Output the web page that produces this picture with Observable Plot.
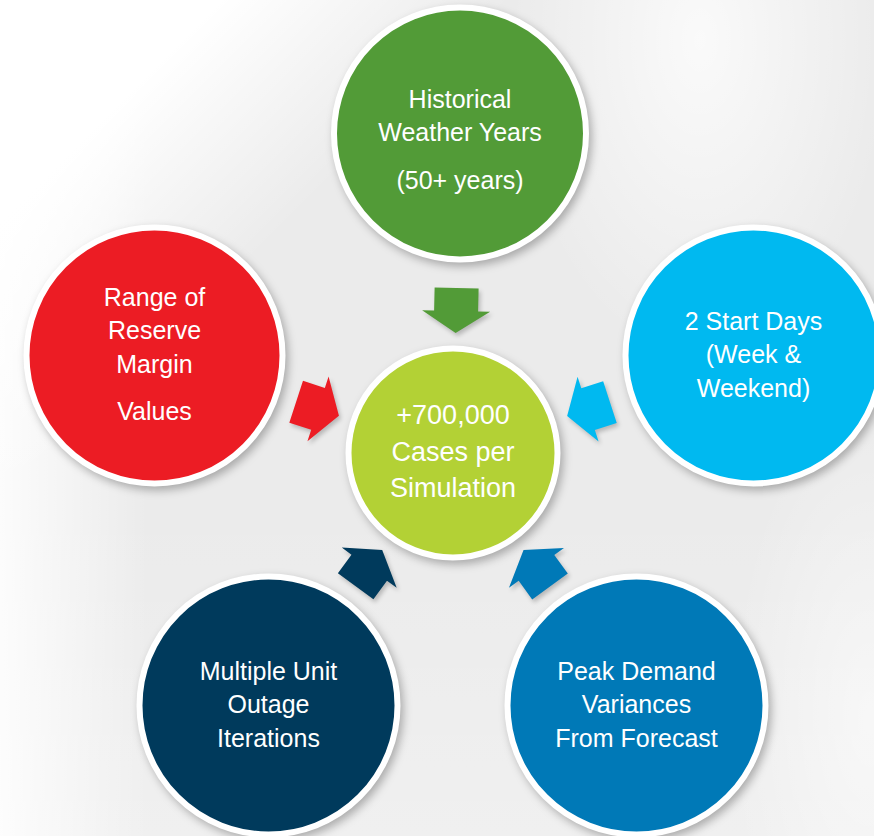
<!DOCTYPE html>
<html>
<head>
<meta charset="utf-8">
<script src="https://cdn.jsdelivr.net/npm/d3@7"></script>
<script src="https://cdn.jsdelivr.net/npm/@observablehq/plot@0.6"></script>
<style>
  html, body { margin: 0; padding: 0; }
  body {
    width: 874px; height: 836px; overflow: hidden;
    background-color: #ebebeb;
    background-image:
      linear-gradient(135deg, #ffffff 0%, #ffffff 13%, rgba(255,255,255,0) 30%),
      linear-gradient(to right, rgba(255,255,255,0.85) 0%, rgba(255,255,255,0) 17%),
      radial-gradient(ellipse 190px 320px at 700px 40px, rgba(255,255,255,0.75), rgba(255,255,255,0)),
      radial-gradient(ellipse 140px 320px at 870px 720px, rgba(255,255,255,0.55), rgba(255,255,255,0)),
      linear-gradient(to bottom, rgba(255,255,255,0) 60%, rgba(255,255,255,0.25) 100%);
  }
  #chart svg { display: block; }
  #chart g[aria-label="dot"] circle { filter: drop-shadow(3px 4px 4px rgba(0,0,0,0.28)); }
  #chart g[aria-label="line"] path { filter: drop-shadow(2px 3px 2px rgba(0,0,0,0.22)); }
</style>
</head>
<body>
<div id="chart"></div>
<script>
// ---- data ----
const nodeIds    = ["hub", "weather", "start", "demand", "outage", "reserve"];
const nodeLabels = [
  ["+700,000", "Cases per", "Simulation"],
  ["Historical", "Weather Years"],
  ["2 Start Days", "(Week &", "Weekend)"],
  ["Peak Demand", "Variances", "From Forecast"],
  ["Multiple Unit", "Outage", "Iterations"],
  ["Range of", "Reserve", "Margin"]
];
const nodeNotes  = [[], ["(50+ years)"], [], [], [], ["Values"]];
const nodeColors = ["#b3d135", "#529b37", "#00b9f0", "#0079b7", "#003a5c", "#ec1c24"];

// ---- layout (diagram geometry) ----
const nodeX      = [452.5, 459.5, 753, 636, 268, 154];
const nodeY      = [452.5, 133, 355, 705, 705, 355];
const nodeR      = [107.5, 129, 131, 132, 132, 131];
const fontSizes  = [27, 25, 25, 25, 25, 25];
const textShift  = [0, 7, 0, 0, 0, 0];

const W = 874, H = 836;

const nodes = nodeIds.map((id, i) => ({
  id, x: nodeX[i], y: nodeY[i], r: nodeR[i] - 3, color: nodeColors[i]
}));

// text rows
const textRows = [];
nodeIds.forEach((id, i) => {
  const fs = fontSizes[i];
  const lh = fs * 1.34;
  const rows = nodeLabels[i].map(t => ({t, note: false}))
    .concat(nodeNotes[i].map(t => ({t, note: true})));
  let off = 0, offs = [];
  rows.forEach((row, k) => {
    if (k > 0) off += lh + (row.note ? 14 : 0);
    offs.push(off);
  });
  const c = (offs[0] + offs[offs.length - 1]) / 2;
  rows.forEach((row, k) => {
    const baseline = nodeY[i] + 7.5 + (offs[k] - c) + textShift[i];
    textRows.push({x: nodeX[i], y: baseline - 0.32 * fs, text: row.t, fs});
  });
});

// arrows: from each outer node toward the hub
const arrowShape = [[0,0],[-22,34],[-22,22],[-45,22],[-45,-22],[-22,-22],[-22,-34]];
const arrowPts = [];
nodes.slice(1).forEach((n, j) => {
  const hub = nodes[0];
  const dx = n.x - hub.x, dy = n.y - hub.y, L = Math.hypot(dx, dy);
  const ux = -dx / L, uy = -dy / L;          // direction toward hub
  const tx = hub.x - ux * 120, ty = hub.y - uy * 120; // tip
  const vx = -uy, vy = ux;
  arrowShape.forEach(([a, b]) => {
    arrowPts.push({id: n.id, color: n.color, x: tx + ux * a + vx * b, y: ty + uy * a + vy * b});
  });
});

const chart = Plot.plot({
  width: W, height: H, margin: 0,
  style: {background: "none", overflow: "visible"},
  x: {domain: [0, W], range: [0, W], axis: null},
  y: {domain: [0, H], range: [0, H], axis: null},
  r: {type: "identity"},
  color: {type: "identity"},
  marks: [
    Plot.line(arrowPts, {x: "x", y: "y", z: "id", fill: "color", stroke: null, curve: "linear-closed"}),
    Plot.dot(nodes, {x: "x", y: "y", r: "r", fill: "color", stroke: "white", strokeWidth: 6, fillOpacity: 1}),
    ...[25, 27].map(fs => Plot.text(textRows.filter(d => d.fs === fs), {
      x: "x", y: "y", text: "text", fill: "white", fontSize: fs,
      fontFamily: "'Liberation Sans', Arial, sans-serif", lineAnchor: "middle", textAnchor: "middle"
    }))
  ]
});
document.getElementById("chart").appendChild(chart);
</script>
</body>
</html>
